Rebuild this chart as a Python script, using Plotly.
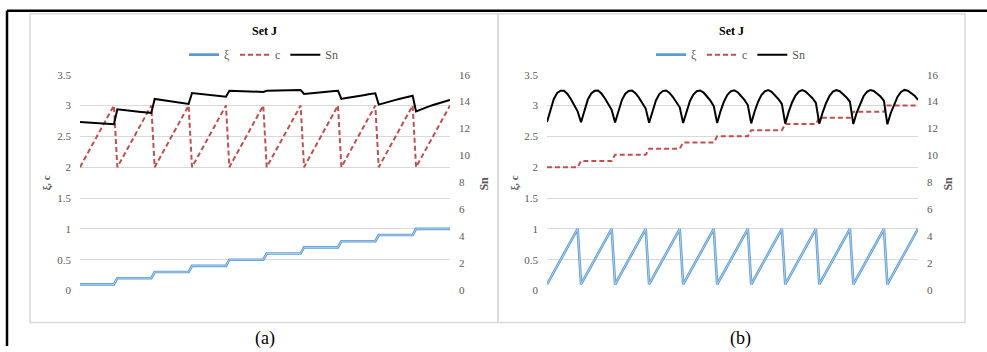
import plotly.graph_objects as go

# ---------------- data (panel a: xi outer loop, c inner loop) ----------------
xi_a = [
    0.1, 0.1, 0.1, 0.1, 0.1, 0.1, 0.1, 0.1, 0.1, 0.1, 0.1,
    0.2, 0.2, 0.2, 0.2, 0.2, 0.2, 0.2, 0.2, 0.2, 0.2, 0.2,
    0.3, 0.3, 0.3, 0.3, 0.3, 0.3, 0.3, 0.3, 0.3, 0.3, 0.3,
    0.4, 0.4, 0.4, 0.4, 0.4, 0.4, 0.4, 0.4, 0.4, 0.4, 0.4,
    0.5, 0.5, 0.5, 0.5, 0.5, 0.5, 0.5, 0.5, 0.5, 0.5, 0.5,
    0.6, 0.6, 0.6, 0.6, 0.6, 0.6, 0.6, 0.6, 0.6, 0.6, 0.6,
    0.7, 0.7, 0.7, 0.7, 0.7, 0.7, 0.7, 0.7, 0.7, 0.7, 0.7,
    0.8, 0.8, 0.8, 0.8, 0.8, 0.8, 0.8, 0.8, 0.8, 0.8, 0.8,
    0.9, 0.9, 0.9, 0.9, 0.9, 0.9, 0.9, 0.9, 0.9, 0.9, 0.9,
    1.0, 1.0, 1.0, 1.0, 1.0, 1.0, 1.0, 1.0, 1.0, 1.0, 1.0,
]
c_a = [
    2.0, 2.1, 2.2, 2.3, 2.4, 2.5, 2.6, 2.7, 2.8, 2.9, 3.0,
    2.0, 2.1, 2.2, 2.3, 2.4, 2.5, 2.6, 2.7, 2.8, 2.9, 3.0,
    2.0, 2.1, 2.2, 2.3, 2.4, 2.5, 2.6, 2.7, 2.8, 2.9, 3.0,
    2.0, 2.1, 2.2, 2.3, 2.4, 2.5, 2.6, 2.7, 2.8, 2.9, 3.0,
    2.0, 2.1, 2.2, 2.3, 2.4, 2.5, 2.6, 2.7, 2.8, 2.9, 3.0,
    2.0, 2.1, 2.2, 2.3, 2.4, 2.5, 2.6, 2.7, 2.8, 2.9, 3.0,
    2.0, 2.1, 2.2, 2.3, 2.4, 2.5, 2.6, 2.7, 2.8, 2.9, 3.0,
    2.0, 2.1, 2.2, 2.3, 2.4, 2.5, 2.6, 2.7, 2.8, 2.9, 3.0,
    2.0, 2.1, 2.2, 2.3, 2.4, 2.5, 2.6, 2.7, 2.8, 2.9, 3.0,
    2.0, 2.1, 2.2, 2.3, 2.4, 2.5, 2.6, 2.7, 2.8, 2.9, 3.0,
]
sn_a = [
    12.49, 12.47, 12.46, 12.44, 12.42, 12.41, 12.39, 12.37, 12.36, 12.34, 12.32,
    13.43, 13.41, 13.38, 13.35, 13.33, 13.30, 13.27, 13.24, 13.21, 13.19, 13.16,
    14.20, 14.16, 14.12, 14.09, 14.05, 14.01, 13.98, 13.94, 13.90, 13.87, 13.83,
    14.64, 14.61, 14.59, 14.56, 14.53, 14.51, 14.48, 14.45, 14.42, 14.40, 14.37,
    14.81, 14.80, 14.79, 14.78, 14.77, 14.76, 14.76, 14.75, 14.74, 14.73, 14.72,
    14.81, 14.82, 14.82, 14.83, 14.83, 14.84, 14.85, 14.85, 14.86, 14.86, 14.87,
    14.57, 14.60, 14.63, 14.65, 14.67, 14.70, 14.72, 14.74, 14.77, 14.79, 14.81,
    14.20, 14.25, 14.30, 14.34, 14.38, 14.42, 14.46, 14.50, 14.54, 14.58, 14.62,
    13.78, 13.86, 13.93, 14.00, 14.07, 14.13, 14.19, 14.25, 14.31, 14.38, 14.44,
    13.28, 13.39, 13.49, 13.58, 13.67, 13.75, 13.83, 13.91, 13.99, 14.06, 14.13,
]

# ---------------- data (panel b: c outer loop, xi inner loop) ----------------
xi_b = [
    0.1, 0.2, 0.3, 0.4, 0.5, 0.6, 0.7, 0.8, 0.9, 1.0,
    0.1, 0.2, 0.3, 0.4, 0.5, 0.6, 0.7, 0.8, 0.9, 1.0,
    0.1, 0.2, 0.3, 0.4, 0.5, 0.6, 0.7, 0.8, 0.9, 1.0,
    0.1, 0.2, 0.3, 0.4, 0.5, 0.6, 0.7, 0.8, 0.9, 1.0,
    0.1, 0.2, 0.3, 0.4, 0.5, 0.6, 0.7, 0.8, 0.9, 1.0,
    0.1, 0.2, 0.3, 0.4, 0.5, 0.6, 0.7, 0.8, 0.9, 1.0,
    0.1, 0.2, 0.3, 0.4, 0.5, 0.6, 0.7, 0.8, 0.9, 1.0,
    0.1, 0.2, 0.3, 0.4, 0.5, 0.6, 0.7, 0.8, 0.9, 1.0,
    0.1, 0.2, 0.3, 0.4, 0.5, 0.6, 0.7, 0.8, 0.9, 1.0,
    0.1, 0.2, 0.3, 0.4, 0.5, 0.6, 0.7, 0.8, 0.9, 1.0,
    0.1, 0.2, 0.3, 0.4, 0.5, 0.6, 0.7, 0.8, 0.9, 1.0,
]
c_b = [
    2.0, 2.0, 2.0, 2.0, 2.0, 2.0, 2.0, 2.0, 2.0, 2.0,
    2.1, 2.1, 2.1, 2.1, 2.1, 2.1, 2.1, 2.1, 2.1, 2.1,
    2.2, 2.2, 2.2, 2.2, 2.2, 2.2, 2.2, 2.2, 2.2, 2.2,
    2.3, 2.3, 2.3, 2.3, 2.3, 2.3, 2.3, 2.3, 2.3, 2.3,
    2.4, 2.4, 2.4, 2.4, 2.4, 2.4, 2.4, 2.4, 2.4, 2.4,
    2.5, 2.5, 2.5, 2.5, 2.5, 2.5, 2.5, 2.5, 2.5, 2.5,
    2.6, 2.6, 2.6, 2.6, 2.6, 2.6, 2.6, 2.6, 2.6, 2.6,
    2.7, 2.7, 2.7, 2.7, 2.7, 2.7, 2.7, 2.7, 2.7, 2.7,
    2.8, 2.8, 2.8, 2.8, 2.8, 2.8, 2.8, 2.8, 2.8, 2.8,
    2.9, 2.9, 2.9, 2.9, 2.9, 2.9, 2.9, 2.9, 2.9, 2.9,
    3.0, 3.0, 3.0, 3.0, 3.0, 3.0, 3.0, 3.0, 3.0, 3.0,
]
sn_b = [
    12.49, 13.43, 14.20, 14.64, 14.81, 14.81, 14.57, 14.20, 13.78, 13.28,
    12.47, 13.41, 14.16, 14.61, 14.80, 14.82, 14.60, 14.25, 13.86, 13.39,
    12.46, 13.38, 14.12, 14.59, 14.79, 14.82, 14.63, 14.30, 13.93, 13.49,
    12.44, 13.35, 14.09, 14.56, 14.78, 14.83, 14.65, 14.34, 14.00, 13.58,
    12.42, 13.33, 14.05, 14.53, 14.77, 14.83, 14.67, 14.38, 14.07, 13.67,
    12.41, 13.30, 14.01, 14.51, 14.76, 14.84, 14.70, 14.42, 14.13, 13.75,
    12.39, 13.27, 13.98, 14.48, 14.76, 14.85, 14.72, 14.46, 14.19, 13.83,
    12.37, 13.24, 13.94, 14.45, 14.75, 14.85, 14.74, 14.50, 14.25, 13.91,
    12.36, 13.21, 13.90, 14.42, 14.74, 14.86, 14.77, 14.54, 14.31, 13.99,
    12.34, 13.19, 13.87, 14.40, 14.73, 14.86, 14.79, 14.58, 14.38, 14.06,
    12.32, 13.16, 13.83, 14.37, 14.72, 14.87, 14.81, 14.62, 14.44, 14.13,
]

left_ticks = [0, 0.5, 1, 1.5, 2, 2.5, 3, 3.5]
left_labels = ["0", "0.5", "1", "1.5", "2", "2.5", "3", "3.5"]
right_ticks = [0, 2, 4, 6, 8, 10, 12, 14, 16]
right_labels = ["0", "2", "4", "6", "8", "10", "12", "14", "16"]

# ---------------- styling ----------------
W, H = 987, 352
SERIF = "Liberation Serif, Times New Roman, serif"
GRAY_TXT = "#595959"
GRID = "#d9d9d9"
BLUE = "#5b9bd5"
BLUE_CORE = "#d6e6f5"
RED = "#c0504d"

# vertical calibration of the photographed page (observed y = VS * y + VO)
VS, VO = 0.9665, 5.3


def px(x):
    return x / W


def py(y):
    return 1 - ((y - VO) / VS) / H


fig = go.Figure()

panels = [
    dict(xi=xi_a, c=c_a, sn=sn_a, xa="x", ya="y", ya2="y2", legend="legend"),
    dict(xi=xi_b, c=c_b, sn=sn_b, xa="x2", ya="y3", ya2="y4", legend="legend2"),
]
for p in panels:
    # double (compound) blue line: outer blue stroke + light core
    fig.add_trace(go.Scatter(y=p["xi"], mode="lines", name="ξ",
                             line=dict(color=BLUE, width=2.6),
                             xaxis=p["xa"], yaxis=p["ya"], legend=p["legend"]))
    fig.add_trace(go.Scatter(y=p["xi"], mode="lines", name="ξ", showlegend=False,
                             line=dict(color=BLUE_CORE, width=0.7), hoverinfo="skip",
                             xaxis=p["xa"], yaxis=p["ya"]))
    fig.add_trace(go.Scatter(y=p["c"], mode="lines", name="c",
                             line=dict(color=RED, width=2, dash="5px,3px"),
                             xaxis=p["xa"], yaxis=p["ya"], legend=p["legend"]))
    fig.add_trace(go.Scatter(y=p["sn"], mode="lines", name="Sn",
                             line=dict(color="black", width=2),
                             xaxis=p["xa"], yaxis=p["ya2"], legend=p["legend"]))

ydom = [py(290), py(74)]
tickfont = dict(family=SERIF, size=11, color=GRAY_TXT)


def xaxis_cfg(x0, x1):
    return dict(domain=[px(x0), px(x1)], range=[0, 109], showgrid=False,
                zeroline=False, showticklabels=False, showline=False, ticks="")


def yleft_cfg(anchor):
    return dict(domain=ydom, range=[0, 3.5], tickvals=left_ticks, ticktext=left_labels,
                showgrid=True, gridcolor=GRID, gridwidth=1, zeroline=False,
                showline=False, ticks="", ticklabelstandoff=8, tickfont=tickfont,
                anchor=anchor)


def yright_cfg(anchor, overlay):
    return dict(domain=ydom, range=[0, 16], tickvals=right_ticks, ticktext=right_labels,
                showgrid=False, zeroline=False, showline=False, ticks="",
                ticklabelstandoff=8, tickfont=tickfont, side="right",
                overlaying=overlay, anchor=anchor)


legend_common = dict(orientation="h", xanchor="center", yanchor="middle",
                     bgcolor="rgba(0,0,0,0)", font=dict(family=SERIF, size=12, color=GRAY_TXT),
                     itemwidth=30, tracegroupgap=0)

fig.update_layout(
    width=W, height=H, autosize=False,
    margin=dict(l=0, r=0, t=0, b=0),
    paper_bgcolor="white", plot_bgcolor="white",
    font=dict(family=SERIF, color=GRAY_TXT),
    xaxis=xaxis_cfg(80, 450),
    xaxis2=xaxis_cfg(547, 918),
    yaxis=yleft_cfg("x"),
    yaxis2=yright_cfg("x", "y"),
    yaxis3=yleft_cfg("x2"),
    yaxis4=yright_cfg("x2", "y3"),
    legend=dict(x=px(264), y=py(54), **legend_common),
    legend2=dict(x=px(731), y=py(54), **legend_common),
)

shapes = [
    # chart area borders
    dict(type="rect", xref="paper", yref="paper", x0=px(30), x1=px(498), y0=py(322), y1=py(13),
         line=dict(color=GRID, width=1.5), layer="below"),
    dict(type="rect", xref="paper", yref="paper", x0=px(498), x1=px(965), y0=py(322), y1=py(13),
         line=dict(color=GRID, width=1.5), layer="below"),
    # outer table lines
    dict(type="line", xref="paper", yref="paper", x0=px(7), x1=1, y0=py(10), y1=py(10),
         line=dict(color="black", width=2.5)),
    dict(type="line", xref="paper", yref="paper", x0=px(7), x1=px(7), y0=py(10), y1=0,
         line=dict(color="black", width=2.5)),
]
fig.update_layout(shapes=shapes)

ann = []
for cx, ytx, sntx, cap, capx in [(264, 47, 484, "(a)", 265), (731, 515, 948, "(b)", 740)]:
    ann.append(dict(x=px(cx), y=py(30), xref="paper", yref="paper", text="<b>Set J</b>",
                    showarrow=False, font=dict(family=SERIF, size=12, color="black"),
                    xanchor="center", yanchor="middle"))
    ann.append(dict(x=px(ytx), y=py(183), xref="paper", yref="paper", text="<b>ξ, c</b>",
                    textangle=-90, showarrow=False, font=dict(family=SERIF, size=11, color=GRAY_TXT),
                    xanchor="center", yanchor="middle"))
    ann.append(dict(x=px(sntx), y=py(183), xref="paper", yref="paper", text="<b>Sn</b>",
                    textangle=-90, showarrow=False, font=dict(family=SERIF, size=12, color=GRAY_TXT),
                    xanchor="center", yanchor="middle"))
    ann.append(dict(x=px(capx), y=py(338), xref="paper", yref="paper", text=cap,
                    showarrow=False, font=dict(family=SERIF, size=18, color="black"),
                    xanchor="center", yanchor="middle"))
fig.update_layout(annotations=ann)

fig.write_html(
    "out.html",
    config={"displayModeBar": False},
    post_script=(
        "var s=document.documentElement.style;s.margin='0';s.padding='0';"
        "s.height='352px';s.overflow='hidden';"
        "var b=document.body.style;b.margin='0';b.padding='0';"
        "b.height='352px';b.overflow='hidden';"
    ),
)
